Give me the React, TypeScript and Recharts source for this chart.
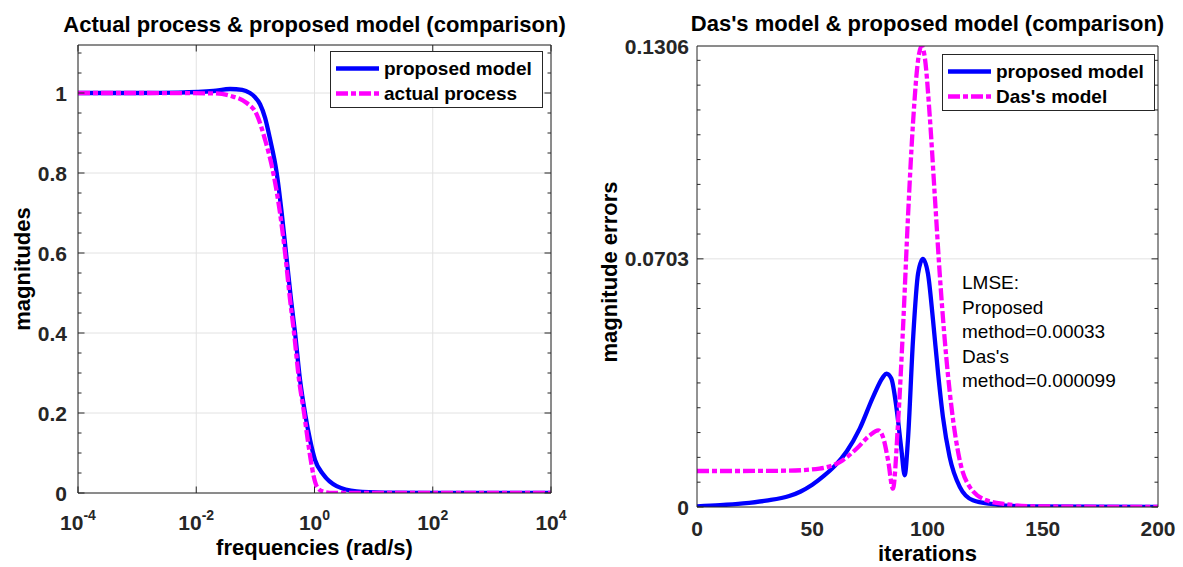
import React from 'react';
import { LineChart, Line, XAxis, YAxis, CartesianGrid } from 'recharts';

// left plot: magnitude vs frequency (log axis)
const proposedFreq = [0.0001, 0.001, 0.005, 0.0195, 0.0374, 0.06, 0.081, 0.098, 0.12, 0.146, 0.177, 0.2296, 0.279, 0.33, 0.401, 0.469, 0.569, 0.691, 0.84, 1.02, 1.41, 2.37, 5.16, 15, 100, 10000];
const proposedMag = [1.0, 1.0, 1.001, 1.005, 1.01, 1.008, 1.0, 0.99, 0.972, 0.938, 0.885, 0.8, 0.7, 0.6, 0.483, 0.4, 0.283, 0.2, 0.133, 0.083, 0.046, 0.017, 0.004, 0.001, 0, 0];
const actualFreq = [0.0001, 0.001, 0.0195, 0.0374, 0.0716, 0.1057, 0.146, 0.201, 0.261, 0.318, 0.386, 0.451, 0.547, 0.666, 0.768, 0.863, 0.955, 1.09, 1.32, 2.08, 100, 10000];
const actualMag = [1.0, 1.0, 0.999, 0.993, 0.975, 0.946, 0.883, 0.8, 0.7, 0.6, 0.483, 0.4, 0.283, 0.2, 0.133, 0.083, 0.046, 0.017, 0.005, 0, 0, 0];

// right plot: magnitude errors vs iterations
const proposedIter = [0, 10, 20, 30, 40, 45, 50, 55, 60, 65, 70.6, 76.4, 80.7, 82.2, 84.3, 86.5, 88.7, 90.1, 91.5, 93.7, 95.9, 98.0, 100.2, 102.4, 104.6, 106.7, 109.6, 114.0, 119.7, 128.4, 140, 200];
const proposedErr = [0.0002, 0.0005, 0.001, 0.0018, 0.0031, 0.0044, 0.0063, 0.0088, 0.0118, 0.0158, 0.0222, 0.0312, 0.0368, 0.0378, 0.0364, 0.0283, 0.0161, 0.009, 0.0189, 0.0472, 0.0661, 0.0703, 0.0661, 0.0529, 0.0378, 0.0255, 0.0142, 0.0057, 0.0019, 0.0008, 0.0002, 0];
const dasIter = [0, 20, 40, 53.1, 61.9, 69.2, 75.0, 78.6, 80.7, 82.9, 85.0, 87.2, 89.4, 91.6, 93.7, 95.9, 97.4, 98.8, 101.0, 103.2, 105.3, 107.5, 110.4, 114.0, 118.3, 125.6, 134.3, 145, 200];
const dasErr = [0.0102, 0.0102, 0.0103, 0.0109, 0.0127, 0.0165, 0.0203, 0.0217, 0.0198, 0.0132, 0.0052, 0.0236, 0.051, 0.0831, 0.1086, 0.1265, 0.1306, 0.1275, 0.1105, 0.0878, 0.0661, 0.0472, 0.0283, 0.0132, 0.0057, 0.0019, 0.0008, 0.0002, 0];

const freqTicks = [1e-4, 1e-2, 1, 1e2, 1e4];
const magTicks = [0, 0.2, 0.4, 0.6, 0.8, 1];
const iterTicks = [0, 50, 100, 150, 200];
const errTicks = [0, 0.0703, 0.1306];
const lmseLines = ['LMSE:', 'Proposed', 'method=0.00033', "Das's", 'method=0.000099'];

// minor tick positions (axis decoration only)
const magMinor = Array.from({ length: 23 }, (_, i) => +(i * 0.05).toFixed(2));
const iterMinor = Array.from({ length: 21 }, (_, i) => i * 10);
const errMinor = Array.from({ length: 19 }, (_, i) => +(i * 0.00703).toFixed(5));

const proposedData = proposedFreq.map((f, i) => ({ x: f, y: proposedMag[i] }));
const actualData = actualFreq.map((f, i) => ({ x: f, y: actualMag[i] }));
const proposedErrData = proposedIter.map((t, i) => ({ x: t, y: proposedErr[i] }));
const dasErrData = dasIter.map((t, i) => ({ x: t, y: dasErr[i] }));

const INK = '#262626';
const FONT = '"Liberation Sans", Arial, Helvetica, sans-serif';
const BLUE = '#0000ff';
const MAGENTA = '#ff00ff';
const DASHDOT = '12 3 5 3';
const LW = 4.3;
const tickText = { fontFamily: FONT, fontWeight: 700, fontSize: 21, fill: INK };

// plot area sizes (must match margins below)
const L_W = 473, L_H = 448;
const R_W = 461, R_H = 461;

const FreqTick = (p: any) => {
  const exp = Math.round(Math.log10(p.payload.value));
  return (
    <text x={p.x} y={p.y + 37} textAnchor="middle" style={tickText}>
      10<tspan dy={-10} fontSize={14}>{exp}</tspan>
    </text>
  );
};

const IterTick = (p: any) => (
  <text x={p.x} y={p.y + 29} textAnchor="middle" style={tickText}>{p.payload.value}</text>
);

const makeYLabel = (gap: number, fmt: (v: number) => string) => (p: any) => (
  <text x={p.x - gap} y={p.y} dy="0.36em" textAnchor="end" style={tickText}>{fmt(p.payload.value)}</text>
);

// inward tick marks drawn on both opposite sides
const makeXMarks = (h: number, isMajor: (v: number) => boolean) => (p: any) => {
  const len = isMajor(p.payload.value) ? 6.5 : 3.5;
  return (
    <g>
      <line x1={p.x} x2={p.x} y1={p.y} y2={p.y + len} stroke={INK} />
      <line x1={p.x} x2={p.x} y1={p.y + h} y2={p.y + h - len} stroke={INK} />
    </g>
  );
};
const makeYMarks = (w: number, isMajor: (v: number) => boolean) => (p: any) => {
  const len = isMajor(p.payload.value) ? 6.5 : 3.5;
  return (
    <g>
      <line x1={p.x} x2={p.x - len} y1={p.y} y2={p.y} stroke={INK} />
      <line x1={p.x - w} x2={p.x - w + len} y1={p.y} y2={p.y} stroke={INK} />
    </g>
  );
};

const near = (v: number, step: number) => Math.abs(v / step - Math.round(v / step)) < 1e-4;

const LegendBox = ({ x, y, items }: { x: number; y: number; items: { label: string; color: string; dash?: string }[] }) => (
  <g>
    <rect x={x + 0.5} y={y + 0.5} width={212} height={56} fill="#fff" stroke={INK} />
    {items.map((it, i) => {
      const cy = y + 17.5 + i * 25;
      return (
        <g key={it.label}>
          <line x1={x + 6} x2={x + 49} y1={cy} y2={cy} stroke={it.color} strokeWidth={LW} strokeDasharray={it.dash} />
          <text x={x + 54} y={cy} dy="0.36em" style={{ fontFamily: FONT, fontWeight: 700, fontSize: 19, fill: '#000' }}>{it.label}</text>
        </g>
      );
    })}
  </g>
);

const labelStyle = { fontFamily: FONT, fontWeight: 700, fontSize: 22, fill: '#000' };

export default function App() {
  return (
    <div style={{ position: 'absolute', left: 0, top: 0, width: 1183, height: 567, background: '#fff' }}>
      <div style={{ position: 'absolute', left: 0, top: 0 }}>
        <LineChart width={590} height={567} margin={{ top: 44, right: 38, bottom: 14, left: 8 }}>
          <CartesianGrid stroke="#e2e2e2" />
          <XAxis dataKey="x" type="number" scale="log" domain={[1e-4, 1e4]} ticks={freqTicks} interval={0}
            allowDataOverflow height={60} tickSize={0} tickMargin={0} tickLine={false} axisLine={{ stroke: INK }} tick={FreqTick} />
          <XAxis xAxisId="t" orientation="top" dataKey="x" type="number" scale="log" domain={[1e-4, 1e4]} ticks={freqTicks}
            interval={0} allowDataOverflow height={1} tickSize={0} tickMargin={0} tickLine={false} axisLine={{ stroke: INK }}
            tick={makeXMarks(L_H, () => true)} />
          <YAxis type="number" domain={[0, 1.12]} ticks={magTicks} interval={0} width={70} tickSize={0} tickMargin={0}
            tickLine={false} axisLine={{ stroke: INK }} tick={makeYLabel(11, (v) => String(v))} allowDataOverflow />
          <YAxis yAxisId="r" orientation="right" type="number" domain={[0, 1.12]} ticks={magMinor} interval={0} width={1}
            tickSize={0} tickMargin={0} tickLine={false} axisLine={{ stroke: INK }} tick={makeYMarks(L_W, (v) => near(v, 0.2))} allowDataOverflow />
          <Line data={proposedData} dataKey="y" type="monotone" stroke={BLUE} strokeWidth={LW} dot={false} isAnimationActive={false} />
          <Line data={actualData} dataKey="y" type="monotone" stroke={MAGENTA} strokeWidth={LW} strokeDasharray={DASHDOT} dot={false} isAnimationActive={false} />
        </LineChart>
      </div>
      <div style={{ position: 'absolute', left: 590, top: 0 }}>
        <LineChart width={593} height={567} margin={{ top: 45, right: 24, bottom: 0, left: 17 }}>
          <CartesianGrid stroke="#e2e2e2" vertical={false} />
          <XAxis dataKey="x" type="number" domain={[0, 200]} ticks={iterTicks} interval={0} height={60} tickSize={0}
            tickMargin={0} tickLine={false} axisLine={{ stroke: INK }} tick={IterTick} />
          <XAxis xAxisId="t" orientation="top" dataKey="x" type="number" domain={[0, 200]} ticks={iterMinor} interval={0}
            height={1} tickSize={0} tickMargin={0} tickLine={false} axisLine={{ stroke: INK }} tick={makeXMarks(R_H, (v) => v % 50 === 0)} />
          <YAxis type="number" domain={[0, 0.1306]} ticks={errTicks} interval={0} width={90} tickSize={0} tickMargin={0}
            tickLine={false} axisLine={{ stroke: INK }} tick={makeYLabel(8, (v) => String(v))} allowDataOverflow />
          <YAxis yAxisId="r" orientation="right" type="number" domain={[0, 0.1306]} ticks={errMinor} interval={0} width={1}
            tickSize={0} tickMargin={0} tickLine={false} axisLine={{ stroke: INK }} tick={makeYMarks(R_W, (v) => v === 0 || v === 0.0703)} allowDataOverflow />
          <Line data={proposedErrData} dataKey="y" type="monotone" stroke={BLUE} strokeWidth={LW} dot={false} isAnimationActive={false} />
          <Line data={dasErrData} dataKey="y" type="monotone" stroke={MAGENTA} strokeWidth={LW} strokeDasharray={DASHDOT} dot={false} isAnimationActive={false} />
        </LineChart>
      </div>
      <svg width={1183} height={567} style={{ position: 'absolute', left: 0, top: 0, pointerEvents: 'none' }}>
        <text x={314.5} y={32} textAnchor="middle" style={labelStyle}>Actual process &amp; proposed model (comparison)</text>
        <text x={927.5} y={31} textAnchor="middle" style={labelStyle}>Das's model &amp; proposed model (comparison)</text>
        <text x={314.5} y={555} textAnchor="middle" style={labelStyle}>frequencies (rad/s)</text>
        <text x={927.5} y={561} textAnchor="middle" style={labelStyle}>iterations</text>
        <text transform="translate(30,269) rotate(-90)" textAnchor="middle" style={labelStyle}>magnitudes</text>
        <text transform="translate(617,272) rotate(-90)" textAnchor="middle" style={labelStyle}>magnitude errors</text>
        <LegendBox x={330} y={51} items={[{ label: 'proposed model', color: BLUE }, { label: 'actual process', color: MAGENTA, dash: DASHDOT }]} />
        <LegendBox x={942} y={54} items={[{ label: 'proposed model', color: BLUE }, { label: "Das's model", color: MAGENTA, dash: DASHDOT }]} />
        {lmseLines.map((s, i) => (
          <text key={s} x={962} y={289 + i * 24.5} style={{ fontFamily: FONT, fontSize: 19, fill: '#000' }}>{s}</text>
        ))}
      </svg>
    </div>
  );
}
